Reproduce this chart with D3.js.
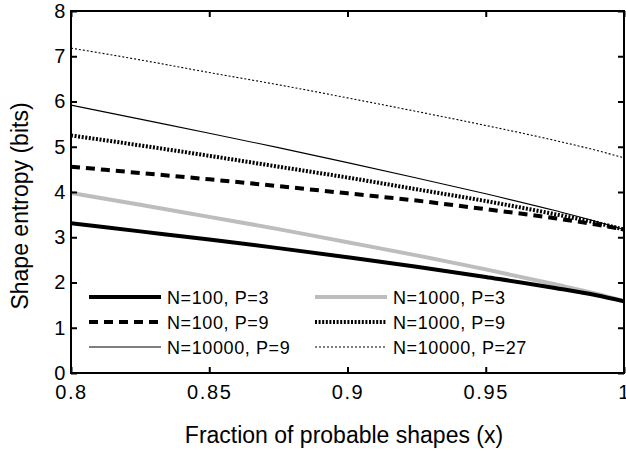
<!DOCTYPE html>
<html>
<head>
<meta charset="utf-8">
<script src="https://cdn.jsdelivr.net/npm/d3@7"></script>
<style>
html,body{margin:0;padding:0;background:#fff;}
svg{display:block;font-family:"Liberation Sans",Arial,sans-serif;}
</style>
</head>
<body>
<svg id="chart" width="626" height="451"></svg>
<script>
const xValues = [0.8, 0.825, 0.85, 0.875, 0.9, 0.925, 0.95, 0.975, 0.99, 1.0];
const n100p3   = [3.31, 3.13, 2.95, 2.76, 2.56, 2.35, 2.12, 1.88, 1.72, 1.585];
const n1000p3  = [3.98, 3.72, 3.45, 3.18, 2.89, 2.60, 2.29, 1.96, 1.75, 1.585];
const n100p9   = [4.56, 4.42, 4.28, 4.13, 3.97, 3.81, 3.62, 3.42, 3.28, 3.17];
const n1000p9  = [5.25, 5.03, 4.80, 4.56, 4.32, 4.06, 3.80, 3.51, 3.32, 3.17];
const n10000p9 = [5.92, 5.61, 5.30, 4.98, 4.65, 4.31, 3.96, 3.59, 3.35, 3.17];
const n10000p27= [7.18, 6.92, 6.64, 6.37, 6.08, 5.78, 5.47, 5.14, 4.92, 4.755];
const seriesNames = ["N=100, P=3","N=1000, P=3","N=100, P=9","N=1000, P=9","N=10000, P=9","N=10000, P=27"];
const xTicks = [0.8, 0.85, 0.9, 0.95, 1];
const xTickLabels = ["0.8","0.85","0.9","0.95","1"];
const yTicks = [0,1,2,3,4,5,6,7,8];
const xLabel = "Fraction of probable shapes (x)";
const yLabel = "Shape entropy (bits)";

const styles = [
  {color:"#000", width:4, dash:null},
  {color:"#bdbdbd", width:4, dash:null},
  {color:"#000", width:4, dash:"9,6"},
  {color:"#000", width:4, dash:"2,1.6"},
  {color:"#000", width:1.1, dash:null},
  {color:"#000", width:1.1, dash:"2,2"}
];
const allValues = [n100p3, n1000p3, n100p9, n1000p9, n10000p9, n10000p27];

const L = 71, R = 624, T = 11, B = 373;
const svg = d3.select("#chart");
const x = d3.scaleLinear().domain([0.8,1]).range([L,R]);
const y = d3.scaleLinear().domain([0,8]).range([B,T]);

svg.append("defs").append("clipPath").attr("id","clip")
  .append("rect").attr("x",L).attr("y",T).attr("width",R-L).attr("height",B-T);

const line = d3.line().x((d,i)=>x(xValues[i])).y(d=>y(d)).curve(d3.curveMonotoneX);
const drawOrder = [1,0,2,3,4,5];
const g = svg.append("g").attr("clip-path","url(#clip)");
drawOrder.forEach(k=>{
  g.append("path").datum(allValues[k]).attr("d",line)
    .attr("fill","none").attr("stroke",styles[k].color)
    .attr("stroke-width",styles[k].width)
    .attr("stroke-dasharray",styles[k].dash);
});

// axes
const tickFont = 20;
function styleAxis(sel){
  sel.select(".domain").remove();
  sel.selectAll(".tick line").attr("stroke","#000").attr("stroke-width",2);
  sel.selectAll(".tick text").attr("font-size",tickFont).attr("fill","#000")
     .attr("font-family","Liberation Sans, Arial, sans-serif").style("letter-spacing","1.6px");
}
svg.append("g").attr("transform",`translate(0,${B})`)
  .call(d3.axisBottom(x).tickValues(xTicks).tickFormat((d,i)=>xTickLabels[i]).tickSize(-6).tickPadding(12))
  .call(styleAxis);
svg.append("g").attr("transform",`translate(0,${T})`)
  .call(d3.axisTop(x).tickValues(xTicks).tickFormat("").tickSize(-6))
  .call(styleAxis);
svg.append("g").attr("transform",`translate(${L},0)`)
  .call(d3.axisLeft(y).tickValues(yTicks).tickFormat(d3.format("d")).tickSize(-6).tickPadding(4))
  .call(styleAxis);
svg.append("g").attr("transform",`translate(${R},0)`)
  .call(d3.axisRight(y).tickValues(yTicks).tickFormat("").tickSize(-6))
  .call(styleAxis);

svg.append("rect").attr("x",L).attr("y",T).attr("width",R-L).attr("height",B-T)
  .attr("fill","none").attr("stroke","#000").attr("stroke-width",2);

// labels
svg.append("text").attr("x",344).attr("y",443).attr("text-anchor","middle")
  .attr("font-size",23).attr("fill","#000").text(xLabel);
svg.append("text").attr("transform","translate(28,206) rotate(-90)").attr("text-anchor","middle")
  .attr("font-size",23).attr("fill","#000").text(yLabel);

// legend
const legX = [89, 315], legRows = [297, 322, 347];
allValues.forEach((v,k)=>{
  const col = k%2, row = Math.floor(k/2);
  const lx = legX[col], ly = legRows[row];
  svg.append("line").attr("x1",lx).attr("x2",lx+72).attr("y1",ly).attr("y2",ly)
    .attr("stroke",styles[k].color).attr("stroke-width",styles[k].width)
    .attr("stroke-dasharray",styles[k].dash);
  svg.append("text").attr("x",lx+78).attr("y",ly+6.5).attr("font-size",18)
    .style("letter-spacing","0.6px").attr("fill","#000").text(seriesNames[k]);
});
</script>
</body>
</html>
